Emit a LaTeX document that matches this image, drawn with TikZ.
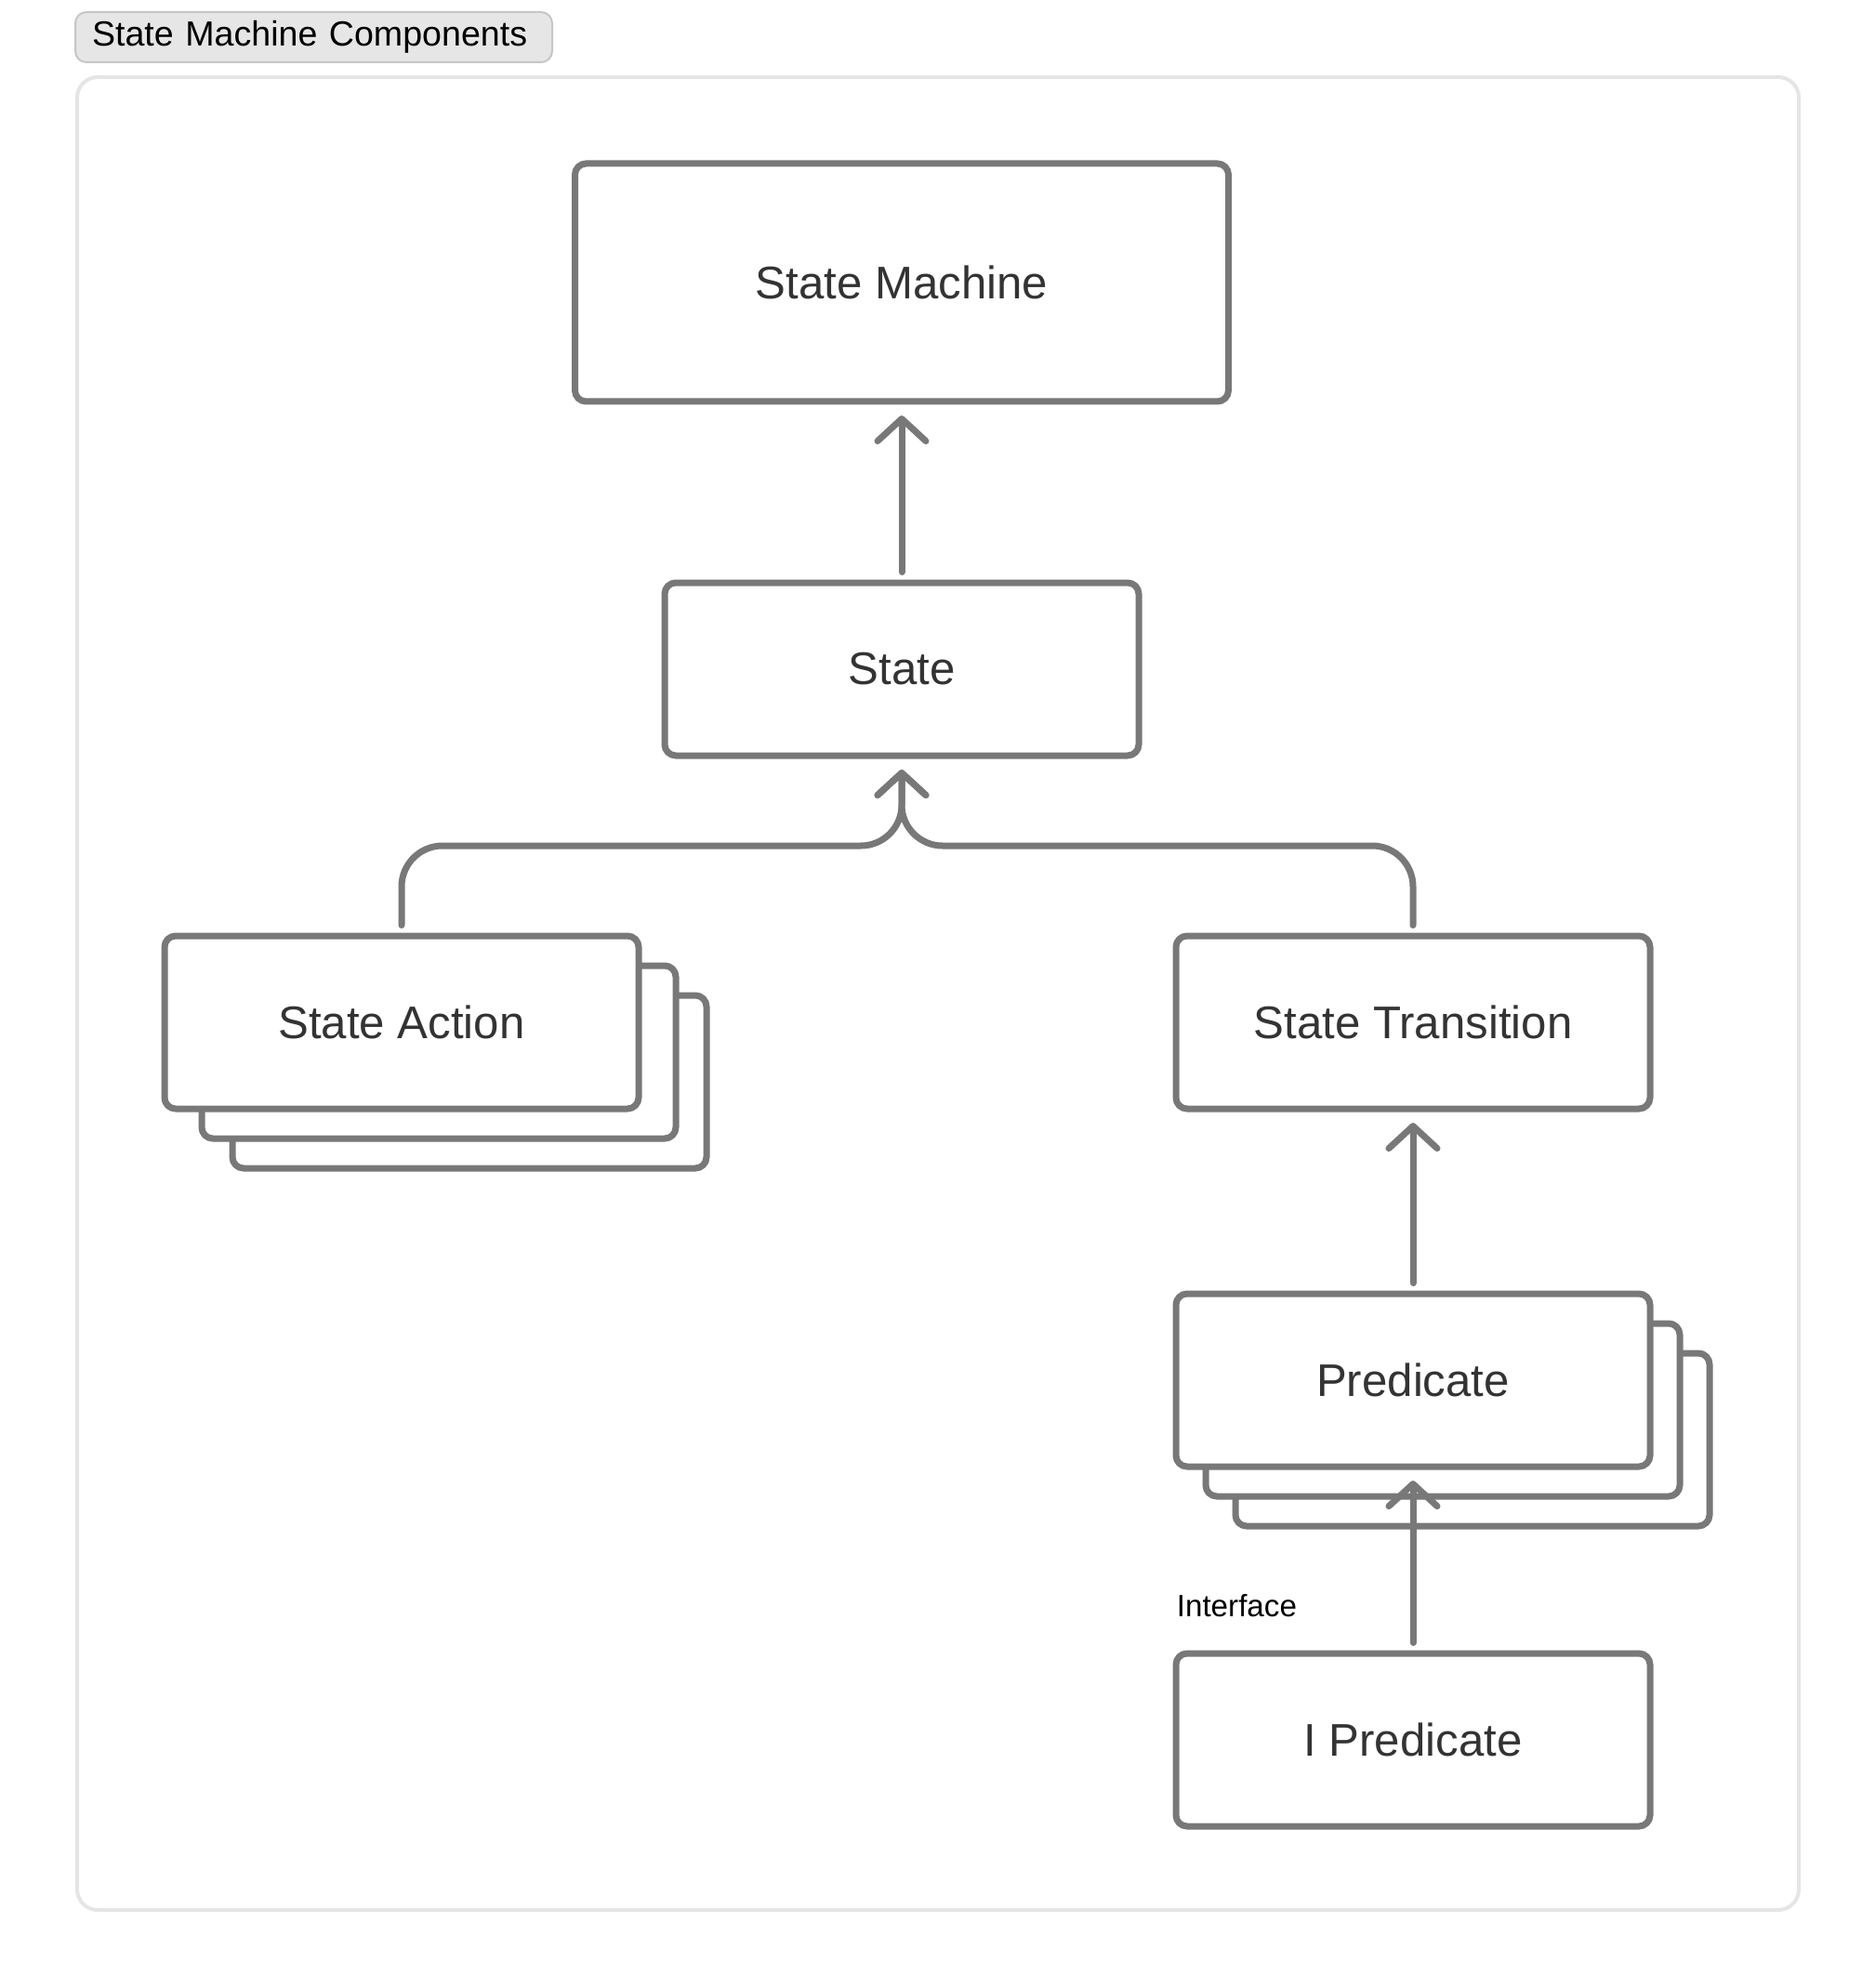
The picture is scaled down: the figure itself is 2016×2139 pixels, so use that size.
\documentclass[tikz,border=0pt]{standalone}
\usepackage{fontspec}
\setmainfont{Liberation Sans}
\usetikzlibrary{arrows.meta}

\definecolor{linegray}{HTML}{787878}
\definecolor{textgray}{HTML}{333333}
\definecolor{framegray}{HTML}{E5E5E5}
\definecolor{tagfill}{HTML}{E6E6E6}
\definecolor{tagdraw}{HTML}{C6C6C6}

\begin{document}
\begin{tikzpicture}[x=0.25pt,y=-0.25pt]

      \useasboundingbox (0,0) rectangle (2016,2139);

      \node[draw=framegray, line width=1pt, rounded corners=5.5pt,
            minimum width=463pt, minimum height=493pt] (group) at (1009,1069) {};
      \node[draw=tagdraw, fill=tagfill, line width=0.5pt, rounded corners=3pt,
            anchor=west, inner xsep=4.5pt, inner ysep=0pt, text width=119.25pt, align=left,
            minimum height=13.5pt, text=black,
            font=\fontsize{9.4}{11}\selectfont] (title) at (80,40) {State Machine Components};

      \begin{scope}[every node/.style={draw=linegray, fill=white, line width=1.75pt,
            rounded corners=3pt, minimum width=127.5pt, minimum height=46.5pt,
            text=textgray, font=\fontsize{12.3}{14}\selectfont}]
        \node[minimum width=175.75pt, minimum height=64pt] (machine) at (970,304) {State Machine};
        \node (state)       at (970,720)   {State};
        \node (action-3)    at (505,1164)  {};
        \node (action-2)    at (472,1132)  {};
        \node (action)      at (432,1100)  {State Action};
        \node (transition)  at (1520,1100) {State Transition};
        \node (predicate-3) at (1584,1549) {};
        \node (predicate-2) at (1552,1517) {};
        \node (predicate)   at (1520,1485) {Predicate};
        \node (ipredicate)  at (1520,1872) {I Predicate};
      \end{scope}

      \node[anchor=base west, inner sep=0pt, text=black,
            font=\fontsize{8.3}{10}\selectfont] (interface) at (1265,1739) {Interface};

      \coordinate (merge) at (970,910);

      \begin{scope}[link/.style={draw=linegray, line width=1.75pt, line cap=round,
            rounded corners=11pt, shorten <=2pt, shorten >=2.9pt,
            -{Straight Barb[length=6pt, width=13pt, line cap=round, line join=round]}}]
        \draw[link] (state.north) -- (machine.south);
        \draw[link] (action.north) |- (merge) -- (state.south);
        \draw[link] (transition.north) |- (merge) -- (state.south);
        \draw[link] (predicate.north) -- (transition.south);
        \draw[link] (ipredicate.north) -- (predicate.south);
      \end{scope}

    \end{tikzpicture}
\end{document}
